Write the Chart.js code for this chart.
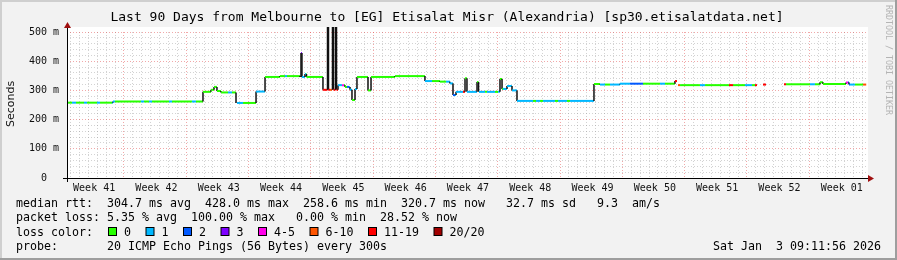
<!DOCTYPE html>
<html>
<head>
<meta charset="utf-8">
<title>Last 90 Days from Melbourne to [EG] Etisalat Misr (Alexandria)</title>
<script src="https://cdn.jsdelivr.net/npm/chart.js@4/dist/chart.umd.min.js"></script>
<style>
  html, body { margin: 0; padding: 0; background: #f2f2f2; }
  canvas { display: block; }
</style>
</head>
<body>
<canvas id="smoke" width="897" height="260"></canvas>
<script>
// x is in days counted from the left edge of the plot (90 days wide)
const titleText = "Last 90 Days from Melbourne to [EG] Etisalat Misr (Alexandria) [sp30.etisalatdata.net]";
const weekLabels = ["Week 41", "Week 42", "Week 43", "Week 44", "Week 45", "Week 46", "Week 47",
  "Week 48", "Week 49", "Week 50", "Week 51", "Week 52", "Week 01"];
const firstWeekStart = 6.4;
const spanDays = 90;
const lineEnd = 89.8;
const yMax = 500;

// median rtt (ms): each value holds from its day until the next one, null = no data
const rttDays = [0, 5.17, 15.28, 16.18, 16.52, 16.85, 17.30, 18.99, 21.24, 22.25,
  23.93, 26.18, 26.29, 26.40, 26.74, 26.91, 28.76, 29.27, 29.38, 29.83,
  29.94, 30.17, 30.28, 30.45, 31.24, 31.80, 32.02, 32.36, 32.58, 33.82,
  34.16, 36.85, 40.22, 41.91, 43.03, 43.37, 43.71, 44.72, 44.94, 46.07,
  46.24, 48.65, 48.88, 49.44, 50.00, 50.56, 59.21, 59.89, 62.13, 68.31,
  68.54, 68.65, 77.53, 78.20, 78.54, 80.56, 84.61, 84.94, 87.53, 87.87];
const rttMs = [258, 262, 295, 302, 312, 298, 293, 257, 296, 346,
  349, 346, 428, 346, 356, 346, 302, 620, 302, 620,
  302, 620, 302, 318, 312, 302, 267, 305, 346, 300,
  346, 349, 332, 330, 324, 284, 295, 342, 295, 329,
  295, 339, 305, 315, 300, 264, 322, 320, 323, 332,
  null, 318, null, 320, null, 321, 328, 322, 327, 320];

// loss class (index into lossLabels) from each day on
const lossDays = [0, 0.56, 1.01, 1.91, 2.25, 3.37, 3.71, 5.06, 5.39, 8.31,
  8.65, 9.21, 9.55, 11.46, 11.80, 14.04, 14.49, 18.09, 18.54, 19.10,
  19.78, 21.24, 22.25, 24.49, 24.72, 26.29, 26.40, 26.85, 28.76, 29.55,
  29.78, 30.45, 30.90, 31.12, 31.46, 31.69, 32.02, 32.36, 32.58, 40.22,
  41.01, 42.58, 43.37, 43.60, 44.49, 44.72, 44.94, 46.07, 46.29, 46.97,
  47.19, 48.09, 48.43, 48.65, 48.99, 52.36, 52.70, 53.15, 53.48, 54.83,
  55.17, 56.18, 56.52, 59.21, 59.89, 60.45, 61.01, 63.26, 64.72, 66.63,
  67.19, 68.31, 68.65, 68.88, 71.12, 71.69, 74.38, 74.83, 76.18, 76.97,
  77.30, 78.20, 80.56, 80.79, 83.48, 84.04, 87.53, 87.75, 87.98, 88.54,
  89.44];
const lossLevel = [0, 1, 0, 1, 0, 1, 0, 1, 0, 1,
  0, 1, 0, 1, 0, 1, 0, 1, 0, 1,
  0, 1, 0, 1, 0, 3, 1, 0, 6, 5,
  6, 1, 4, 0, 2, 1, 0, 1, 0, 1,
  0, 1, 2, 1, 6, 0, 1, 0, 1, 0,
  1, 0, 1, 0, 1, 0, 1, 0, 1, 0,
  1, 0, 1, 0, 1, 0, 1, 2, 0, 1,
  0, 6, 5, 0, 1, 0, 6, 0, 1, 0,
  6, 6, 6, 0, 1, 0, 4, 2, 1, 0,
  5];

const lossLabels = ["0", "1", "2", "3", "4-5", "6-10", "11-19", "20/20"];
const lossColors = ["#26ff00", "#00b8ff", "#0059ff", "#7e00ff", "#ff00ea", "#ff5500", "#ff0000", "#a10000"];

const statLines = [
  "median rtt:  304.7 ms avg  428.0 ms max  258.6 ms min  320.7 ms now   32.7 ms sd   9.3  am/s",
  "packet loss: 5.35 % avg  100.00 % max   0.00 % min  28.52 % now",
  "loss color:",
  "probe:       20 ICMP Echo Pings (56 Bytes) every 300s"
];
const stampText = "Sat Jan  3 09:11:56 2026";
const yAxisTitle = "Seconds";
const sideText = "RRDTOOL / TOBI OETIKER";

const W = 897, H = 260;
const mono = (px) => px + 'px "DejaVu Sans Mono", monospace';

function valueAt(days, vals, d) {
  let v = vals[0];
  for (let i = 0; i < days.length; i++) {
    if (days[i] <= d + 1e-9) v = vals[i];
    else break;
  }
  return v;
}

// step line: coloured flats, black risers
function buildLine() {
  const cuts = [...new Set([...rttDays, ...lossDays, lineEnd])]
    .filter((d) => d <= lineEnd)
    .sort((a, b) => a - b);
  const points = [];
  const colors = [];
  for (let i = 0; i < cuts.length - 1; i++) {
    const y = valueAt(rttDays, rttMs, cuts[i]);
    if (y === null) {
      points.push({ x: cuts[i], y: null });
      colors.push("#111");
      continue;
    }
    const loss = valueAt(lossDays, lossLevel, cuts[i]);
    points.push({ x: cuts[i], y: y });
    colors.push(lossColors[loss]);
    points.push({ x: cuts[i + 1], y: y });
    colors.push("#111");
  }
  return { points, colors };
}

function xTicks() {
  const ticks = [];
  for (let d = firstWeekStart % 1; d < spanDays; d += 1) {
    const week = Math.abs(((d - firstWeekStart) % 7 + 7) % 7) < 0.01 || Math.abs(((d - firstWeekStart) % 7 + 7) % 7 - 7) < 0.01;
    ticks.push({ value: +d.toFixed(3), kind: week ? "week" : "day" });
  }
  weekLabels.forEach((_, k) => {
    ticks.push({ value: firstWeekStart - 3.5 + 0.15 + 7 * k, kind: "label", week: k });
  });
  return ticks.sort((a, b) => a.value - b.value);
}

function yTicks() {
  const ticks = [];
  for (let v = 0; v <= yMax; v += 20) ticks.push({ value: v, kind: v % 100 === 0 ? "major" : "minor" });
  return ticks;
}

const line = buildLine();

const rrdFrame = {
  id: "rrdFrame",
  beforeDraw(chart) {
    const c = chart.ctx;
    const a = chart.chartArea;
    c.save();
    c.fillStyle = "#f2f2f2";
    c.fillRect(0, 0, W, H);
    c.fillStyle = "#cfcfcf";
    c.fillRect(0, 0, W, 2);
    c.fillRect(0, 0, 2, H);
    c.fillStyle = "#9e9e9e";
    c.fillRect(0, H - 2, W, 2);
    c.fillRect(W - 2, 0, 2, H);
    c.fillStyle = "#ffffff";
    c.fillRect(a.left, a.top - 5, a.right - a.left, a.bottom - a.top + 5);
    c.restore();
  },
  afterDraw(chart) {
    const c = chart.ctx;
    const a = chart.chartArea;
    c.save();

    // axes with arrows
    c.fillStyle = "#000";
    c.fillRect(a.left - 4, a.bottom, a.right - a.left + 6, 1);
    c.fillRect(a.left, a.top - 6, 1, a.bottom - a.top + 10);
    c.fillStyle = "#a01010";
    c.beginPath();
    c.moveTo(a.right, a.bottom - 3);
    c.lineTo(a.right + 6, a.bottom + 0.5);
    c.lineTo(a.right, a.bottom + 4);
    c.closePath();
    c.fill();
    c.beginPath();
    c.moveTo(a.left - 3, a.top - 4);
    c.lineTo(a.left + 0.5, a.top - 10);
    c.lineTo(a.left + 4, a.top - 4);
    c.closePath();
    c.fill();

    // title
    c.fillStyle = "#000";
    c.textBaseline = "middle";
    c.textAlign = "center";
    c.font = mono(13);
    c.fillText(titleText, 447, 18);

    // y axis title
    c.save();
    c.translate(11, 104);
    c.rotate(-Math.PI / 2);
    c.font = '11px "DejaVu Sans", sans-serif';
    c.fillStyle = "#111";
    c.fillText(yAxisTitle, 0, 0);
    c.restore();

    // watermark down the right side
    c.save();
    c.translate(888, 60);
    c.rotate(Math.PI / 2);
    c.font = mono(8.3);
    c.fillStyle = "#b4b4b4";
    c.fillText(sideText, 0, 0);
    c.restore();

    // stats
    c.textAlign = "left";
    c.font = mono(11.63);
    c.fillStyle = "#000";
    const rows = [203.5, 218, 232.5, 247];
    statLines.forEach((s, i) => c.fillText(s, 16, rows[i]));
    c.textAlign = "right";
    c.fillText(stampText, 881, rows[3]);

    // loss colour boxes
    c.textAlign = "left";
    let x = 108;
    lossLabels.forEach((lab, i) => {
      c.fillStyle = "#000";
      c.fillRect(x, 227, 9, 9);
      c.fillStyle = lossColors[i];
      c.fillRect(x + 1, 228, 7, 7);
      c.fillStyle = "#000";
      c.fillText(lab, x + 16, rows[2]);
      x += 16 + lab.length * 7 + 14.5;
    });

    c.restore();
  }
};

const gridRed = "rgba(222, 48, 48, 0.42)";
const gridGray = "rgba(140, 140, 140, 0.38)";

new Chart(document.getElementById("smoke"), {
  type: "line",
  data: {
    datasets: [{
      data: line.points,
      borderWidth: 2,
      pointRadius: 0,
      spanGaps: false,
      tension: 0,
      borderCapStyle: "butt",
      clip: { left: 0, top: 5, right: 0, bottom: 0 },
      segment: {
        borderColor: (ctx) => line.colors[ctx.p0DataIndex],
        borderWidth: (ctx) => (line.colors[ctx.p0DataIndex] === "#111" ? 1.5 : 2)
      }
    }]
  },
  options: {
    responsive: false,
    animation: false,
    devicePixelRatio: 1,
    events: [],
    layout: { padding: { left: 0, top: 32, right: 29, bottom: 0 } },
    plugins: { legend: { display: false }, tooltip: { enabled: false } },
    scales: {
      x: {
        type: "linear",
        min: 0,
        max: spanDays,
        afterFit: (s) => { s.height = 82; },
        afterBuildTicks: (s) => { s.ticks = xTicks(); },
        border: { display: false, dash: [1, 2] },
        grid: {
          drawTicks: false,
          lineWidth: 1,
          color: (ctx) => {
            const t = ctx.tick || {};
            if (t.kind === "week") return gridRed;
            if (t.kind === "day") return gridGray;
            return "rgba(0,0,0,0)";
          }
        },
        ticks: {
          autoSkip: false,
          maxRotation: 0,
          minRotation: 0,
          padding: 4,
          color: "#111",
          font: { family: '"DejaVu Sans Mono", monospace', size: 10 },
          callback: (v, i, ticks) => (ticks[i].kind === "label" ? weekLabels[ticks[i].week] : "")
        }
      },
      y: {
        type: "linear",
        min: 0,
        max: yMax,
        afterFit: (s) => { s.width = 67; },
        afterBuildTicks: (s) => { s.ticks = yTicks(); },
        border: { display: false, dash: [1, 2] },
        grid: {
          drawTicks: false,
          lineWidth: 1,
          color: (ctx) => ((ctx.tick || {}).kind === "major" ? gridRed : gridGray)
        },
        ticks: {
          autoSkip: false,
          padding: 8,
          color: "#111",
          font: { family: '"DejaVu Sans Mono", monospace', size: 10 },
          callback: (v) => (v % 100 !== 0 ? "" : v === 0 ? "0  " : v + " m")
        }
      }
    }
  },
  plugins: [rrdFrame]
});
</script>
</body>
</html>
